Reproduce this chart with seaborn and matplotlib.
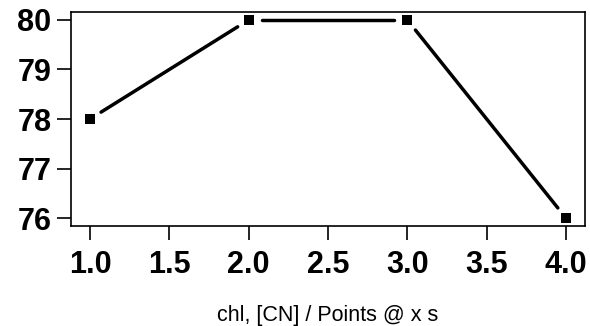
import numpy as np
import pandas as pd
import matplotlib
matplotlib.use('Agg')
import matplotlib.pyplot as plt
import seaborn as sns

# data
x_vals = [1.0, 2.0, 3.0, 4.0]
y_vals = [78, 80, 80, 76]
x_ticks = [1.0, 1.5, 2.0, 2.5, 3.0, 3.5, 4.0]
y_ticks = [76, 77, 78, 79, 80]
x_label = 'chl, [CN] / Points @ x s'

sns.set_style('white')
plt.rcParams['font.family'] = ['Liberation Sans', 'DejaVu Sans']
plt.rcParams['text.color'] = 'black'
plt.rcParams['axes.labelcolor'] = 'black'
plt.rcParams['xtick.color'] = 'black'
plt.rcParams['ytick.color'] = 'black'

fig = plt.figure(figsize=(5.9, 3.26), dpi=100)
ax = fig.add_axes([71 / 590, 1 - 226 / 326, (585 - 71) / 590, (226 - 12) / 326])

ax.set_xlim(0.88, 4.12)
ax.set_ylim(75.84, 80.16)

# R-style type="b": segments stop short of each point
fig.canvas.draw()
pts = ax.transData.transform(np.column_stack([x_vals, y_vals]))
gap = 13
rows = []
for i in range(len(pts) - 1):
    p0, p1 = pts[i], pts[i + 1]
    d = p1 - p0
    n = np.hypot(*d)
    a = p0 + d / n * gap
    b = p1 - d / n * gap
    da, db = ax.transData.inverted().transform([a, b])
    rows.append({'seg': i, 'x': da[0], 'y': da[1]})
    rows.append({'seg': i, 'x': db[0], 'y': db[1]})
segs = pd.DataFrame(rows)

sns.lineplot(data=segs, x='x', y='y', units='seg', estimator=None, sort=False,
             color='black', linewidth=2.5, ax=ax, legend=False)
sns.scatterplot(x=x_vals, y=y_vals, marker='s', s=55, color='black',
                edgecolor='black', linewidth=0, ax=ax, zorder=3)

ax.set_xticks(x_ticks)
ax.set_xticklabels([f'{t:.1f}' for t in x_ticks], fontsize=22, fontweight='bold')
ax.set_yticks(y_ticks)
ax.set_yticklabels([str(t) for t in y_ticks], fontsize=22, fontweight='bold')
ax.tick_params(axis='both', direction='out', length=10, width=1.2, color='black',
               labelcolor='black', bottom=True, left=True, pad=4)
ax.tick_params(axis='x', pad=7)
ax.set_xlabel(x_label, fontsize=15.5, color='black', va='center')
ax.xaxis.set_label_coords(0.5, (226 - 315) / 214)
ax.set_ylabel('')
for s in ax.spines.values():
    s.set_color('black')
    s.set_linewidth(1.2)
ax.grid(False)

fig.savefig('out.png', dpi=100)
